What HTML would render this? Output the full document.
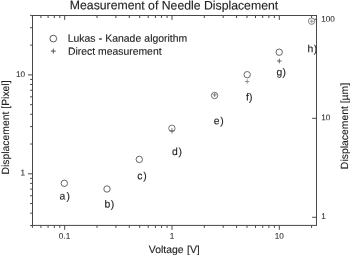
<!DOCTYPE html>
<html><head><meta charset="utf-8"><title>Measurement of Needle Displacement</title>
<style>html,body{margin:0;padding:0;background:#fff}body{width:350px;height:255px;overflow:hidden;position:relative}svg{display:block}text{font-family:"Liberation Sans",Arial,sans-serif;text-rendering:geometricPrecision}</style></head><body>
<svg width="350" height="255" viewBox="0 0 350 255">
<rect width="350" height="255" fill="#fff"/>
<g stroke="#484848" stroke-width="1" fill="none">
<rect x="32.5" y="15.5" width="284.0" height="209.9"/>
<path d="M32.40 225.4v2.5M32.40 15.5v2.5"/>
<path d="M40.90 225.4v2.5M40.90 15.5v2.5"/>
<path d="M48.08 225.4v2.5M48.08 15.5v2.5"/>
<path d="M54.30 225.4v2.5M54.30 15.5v2.5"/>
<path d="M59.79 225.4v2.5M59.79 15.5v2.5"/>
<path d="M64.70 225.4v4.4M64.70 15.5v4.4"/>
<path d="M97.00 225.4v2.5M97.00 15.5v2.5"/>
<path d="M115.90 225.4v2.5M115.90 15.5v2.5"/>
<path d="M129.30 225.4v2.5M129.30 15.5v2.5"/>
<path d="M139.70 225.4v2.5M139.70 15.5v2.5"/>
<path d="M148.20 225.4v2.5M148.20 15.5v2.5"/>
<path d="M155.38 225.4v2.5M155.38 15.5v2.5"/>
<path d="M161.60 225.4v2.5M161.60 15.5v2.5"/>
<path d="M167.09 225.4v2.5M167.09 15.5v2.5"/>
<path d="M172.00 225.4v4.4M172.00 15.5v4.4"/>
<path d="M204.30 225.4v2.5M204.30 15.5v2.5"/>
<path d="M223.20 225.4v2.5M223.20 15.5v2.5"/>
<path d="M236.60 225.4v2.5M236.60 15.5v2.5"/>
<path d="M247.00 225.4v2.5M247.00 15.5v2.5"/>
<path d="M255.50 225.4v2.5M255.50 15.5v2.5"/>
<path d="M262.68 225.4v2.5M262.68 15.5v2.5"/>
<path d="M268.90 225.4v2.5M268.90 15.5v2.5"/>
<path d="M274.39 225.4v2.5M274.39 15.5v2.5"/>
<path d="M279.30 225.4v4.4M279.30 15.5v4.4"/>
<path d="M311.60 225.4v2.5M311.60 15.5v2.5"/>
<path d="M32.5 225.51h-2.4"/>
<path d="M32.5 213.16h-2.4"/>
<path d="M32.5 203.57h-2.4"/>
<path d="M32.5 195.74h-2.4"/>
<path d="M32.5 189.12h-2.4"/>
<path d="M32.5 183.38h-2.4"/>
<path d="M32.5 178.33h-2.4"/>
<path d="M32.5 173.80h-4.5"/>
<path d="M32.5 144.03h-2.4"/>
<path d="M32.5 126.61h-2.4"/>
<path d="M32.5 114.26h-2.4"/>
<path d="M32.5 104.67h-2.4"/>
<path d="M32.5 96.84h-2.4"/>
<path d="M32.5 90.22h-2.4"/>
<path d="M32.5 84.48h-2.4"/>
<path d="M32.5 79.43h-2.4"/>
<path d="M32.5 74.90h-4.5"/>
<path d="M32.5 45.13h-2.4"/>
<path d="M32.5 27.71h-2.4"/>
<path d="M32.5 15.36h-2.4"/>
<path d="M316.5 217.30h-4.4"/>
<path d="M316.5 118.30h-4.4"/>
<path d="M316.5 19.30h-4.4"/>
</g>
<g stroke="#4a4a4a" stroke-width="0.9" fill="#fff">
<circle cx="53.3" cy="38.6" r="3.35"/>
<circle cx="64.3" cy="183.3" r="3.2" stroke="#555"/>
<circle cx="107.0" cy="189.0" r="3.2" stroke="#555"/>
<circle cx="139.3" cy="159.4" r="3.2" stroke="#555"/>
<circle cx="171.9" cy="128.3" r="3.2" stroke="#666"/>
<circle cx="214.6" cy="95.5" r="3.2" stroke="#606060"/>
<circle cx="247.2" cy="74.7" r="3.2" stroke="#5a5a5a"/>
<circle cx="279.2" cy="52.2" r="3.2" stroke="#555"/>
<circle cx="311.6" cy="21.2" r="3.2" stroke="#777"/>
</g>
<g stroke-width="0.9" fill="none">
<path stroke="#444" d="M50.80 51.1h5.0M53.3 48.60v5.0"/>
<path stroke="#666" d="M169.30 130.8h5.4M172.0 128.10v5.4"/>
<path stroke="#707070" d="M212.70 94.9h4.0M214.7 92.90v4.0"/>
<path stroke="#888" d="M245.00 81.5h4.4M247.2 79.30v4.4"/>
<path stroke="#555" d="M277.00 61.0h4.6M279.3 58.70v4.6"/>
<path stroke="#888" d="M309.80 21.3h4.0M311.8 19.30v4.0"/>
</g>
<g fill="#222" stroke="#222" stroke-width="0.12" font-size="10.4">
<text x="59.6" y="199.5" transform="rotate(0.04 59.6 199.5)">a<tspan dx="1.0">)</tspan></text>
<text x="104.4" y="207.5" transform="rotate(0.04 104.4 207.5)">b<tspan dx="0.5">)</tspan></text>
<text x="137.2" y="179.3" transform="rotate(0.04 137.2 179.3)">c<tspan dx="0.8">)</tspan></text>
<text x="172.0" y="155.1" transform="rotate(0.04 172.0 155.1)">d<tspan dx="0.8">)</tspan></text>
<text x="213.7" y="124.3" transform="rotate(0.04 213.7 124.3)">e<tspan dx="0.8">)</tspan></text>
<text x="246.0" y="100.5" transform="rotate(0.04 246.0 100.5)">f<tspan dx="0.2">)</tspan></text>
<text x="276.6" y="75.5" transform="rotate(0.04 276.6 75.5)">g<tspan dx="0.1">)</tspan></text>
<text x="307.5" y="52.2" transform="rotate(0.04 307.5 52.2)">h<tspan dx="0.5">)</tspan></text>
<text x="67.8" y="41.8" transform="rotate(0.04 67.8 41.8)" word-spacing="0.3">Lukas - Kanade algorithm</text>
<text x="68.0" y="54.7" transform="rotate(0.04 68.0 54.7)">Direct measurement</text>
<text x="174.3" y="253" transform="rotate(0.04 174.3 253)" text-anchor="middle" word-spacing="0.6">Voltage [V]</text>
<text transform="translate(8.5 127.5) rotate(-90)" text-anchor="middle">Displacement [Pixel]</text>
<text transform="translate(347.5 126) rotate(-90)" text-anchor="middle">Displacement [µm]</text>
</g>
<g fill="#222" stroke="#222" stroke-width="0.12" font-size="12.26">
<text x="174" y="9.4" transform="rotate(0.04 174 9.4)" text-anchor="middle">Measurement of Needle Displacement</text>
</g>
<g fill="#2e2e2e" stroke="#2e2e2e" stroke-width="0.08" font-size="8.2">
<text x="64.5" y="238.8" transform="rotate(0.04 64.5 238.8)" text-anchor="middle">0.1</text>
<text x="172" y="238.8" transform="rotate(0.04 172 238.8)" text-anchor="middle">1</text>
<text x="279.3" y="238.8" transform="rotate(0.04 279.3 238.8)" text-anchor="middle">10</text>
<text x="25.1" y="76.9" transform="rotate(0.04 25.1 76.9)" text-anchor="end">10</text>
<text x="25.1" y="175.4" transform="rotate(0.04 25.1 175.4)" text-anchor="end">1</text>
<text x="321.2" y="21.8" transform="rotate(0.04 321.2 21.8)">100</text>
<text x="321.2" y="120.3" transform="rotate(0.04 321.2 120.3)">10</text>
<text x="321.2" y="219" transform="rotate(0.04 321.2 219)">1</text>
</g>
</svg></body></html>
